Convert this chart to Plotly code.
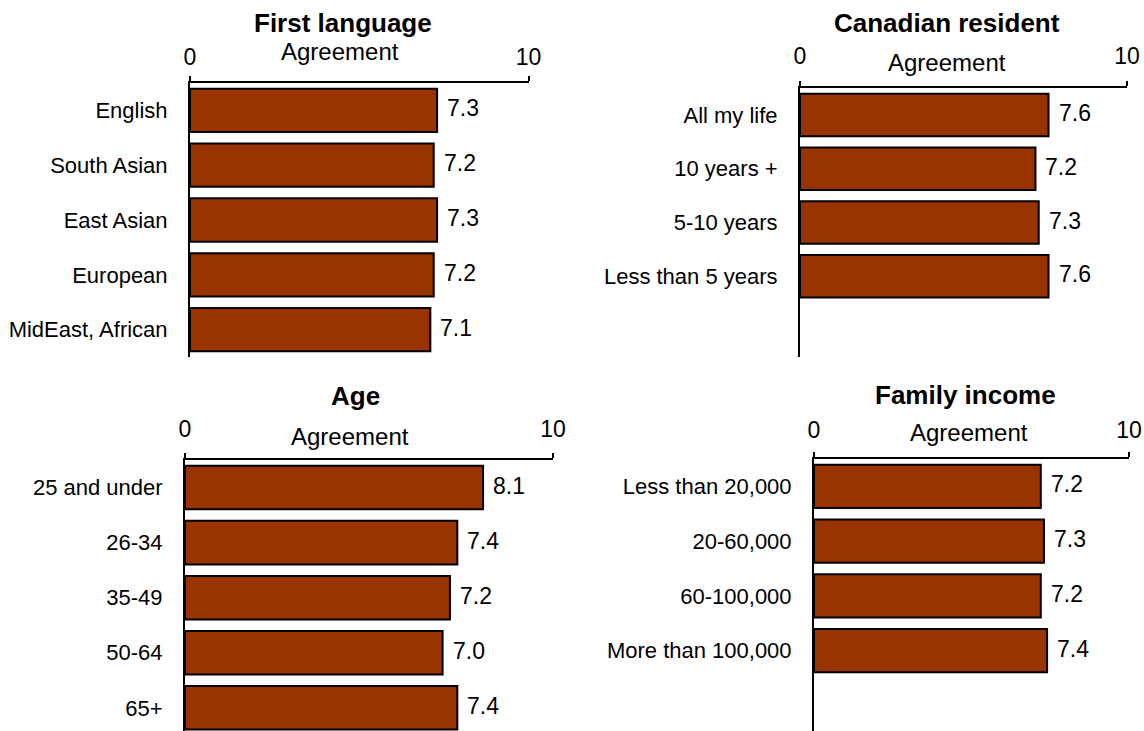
import plotly.graph_objects as go

W, H = 1144, 731

# Survey results: mean agreement score (0-10) by respondent group
lang_cats = ["English", "South Asian", "East Asian", "European", "MidEast, African"]
lang_vals = [7.3, 7.2, 7.3, 7.2, 7.1]

res_cats = ["All my life", "10 years +", "5-10 years", "Less than 5 years"]
res_vals = [7.6, 7.2, 7.3, 7.6]

age_cats = ["25 and under", "26-34", "35-49", "50-64", "65+"]
age_vals = [8.1, 7.4, 7.2, 7.0, 7.4]

inc_cats = ["Less than 20,000", "20-60,000", "60-100,000", "More than 100,000"]
inc_vals = [7.2, 7.3, 7.2, 7.4]

titles = ["First language", "Canadian resident", "Age", "Family income"]
axis_title = "Agreement"
tick_vals = [0, 10]
tick_text = ["0", "10"]

BAR = "#993300"
FONT = "Liberation Sans, Arial, sans-serif"


def px_x(x):
    return x / W


def px_y(y):
    return 1 - y / H


# panel geometry in pixels: plot left/right/top/bottom, y range bottom,
# title centre, "Agreement" centre and gap between axis line and 0/10 labels
panels = [
    dict(cats=lang_cats, vals=lang_vals, x0=190, x1=528.5, y0=83, y1=357, yr=4.5,
         title=(343, 23), agree=(340, 52), tsoff=2),
    dict(cats=res_cats, vals=res_vals, x0=800, x1=1127, y0=88, y1=357, yr=4.5,
         title=(947, 23), agree=(947, 63), tsoff=8),
    dict(cats=age_cats, vals=age_vals, x0=185, x1=553, y0=460, y1=731, yr=4.42,
         title=(355, 396), agree=(350, 436), tsoff=7),
    dict(cats=inc_cats, vals=inc_vals, x0=814, x1=1129, y0=459, y1=731, yr=4.47,
         title=(965, 395), agree=(969, 432), tsoff=5),
]

fig = go.Figure()
annotations = []
layout = {}

for i, p in enumerate(panels):
    n = "" if i == 0 else str(i + 1)
    xa, ya = "x" + n, "y" + n
    fig.add_trace(go.Bar(
        x=p["vals"], y=p["cats"], orientation="h",
        xaxis=xa, yaxis=ya,
        marker=dict(color=BAR, line=dict(color="black", width=2)),
        width=0.79, showlegend=False, hoverinfo="x+y",
    ))
    layout["xaxis" + n] = dict(
        domain=[px_x(p["x0"]), px_x(p["x1"])], range=[0, 10], anchor=ya,
        side="top", showline=True, linecolor="black", linewidth=2,
        ticks="outside", ticklen=5, tickwidth=2, tickcolor="black",
        tickvals=tick_vals, ticktext=tick_text, ticklabelstandoff=p["tsoff"],
        tickfont=dict(family=FONT, size=23, color="black"),
        showgrid=False, zeroline=False, fixedrange=True, automargin=False,
    )
    layout["yaxis" + n] = dict(
        domain=[px_y(p["y1"]), px_y(p["y0"])], range=[p["yr"], -0.5],
        anchor=xa, type="category", categoryorder="array", categoryarray=p["cats"],
        showline=True, linecolor="black", linewidth=2, ticks="",
        ticklabelstandoff=16,
        tickfont=dict(family=FONT, size=22, color="black"),
        showgrid=False, zeroline=False, fixedrange=True, automargin=False,
    )
    # value labels just past each bar end
    for c, v in zip(p["cats"], p["vals"]):
        annotations.append(dict(
            x=v, y=c, xref=xa, yref=ya, text=f"{v:.1f}", showarrow=False,
            xanchor="left", yanchor="middle", xshift=8, yshift=2,
            font=dict(family=FONT, size=23, color="black"),
        ))
    tx, ty = p["title"]
    annotations.append(dict(
        x=px_x(tx), y=px_y(ty), xref="paper", yref="paper", text=f"<b>{titles[i]}</b>",
        showarrow=False, xanchor="center", yanchor="middle",
        font=dict(family=FONT, size=26, color="black"),
    ))
    ax_, ay_ = p["agree"]
    annotations.append(dict(
        x=px_x(ax_), y=px_y(ay_), xref="paper", yref="paper", text=axis_title,
        showarrow=False, xanchor="center", yanchor="middle",
        font=dict(family=FONT, size=24, color="black"),
    ))

fig.update_layout(
    width=W, height=H, margin=dict(l=0, r=0, t=0, b=0),
    paper_bgcolor="white", plot_bgcolor="white",
    annotations=annotations, bargap=0.2,
    **layout,
)

fig.write_html("out.html", config={"displayModeBar": False})
